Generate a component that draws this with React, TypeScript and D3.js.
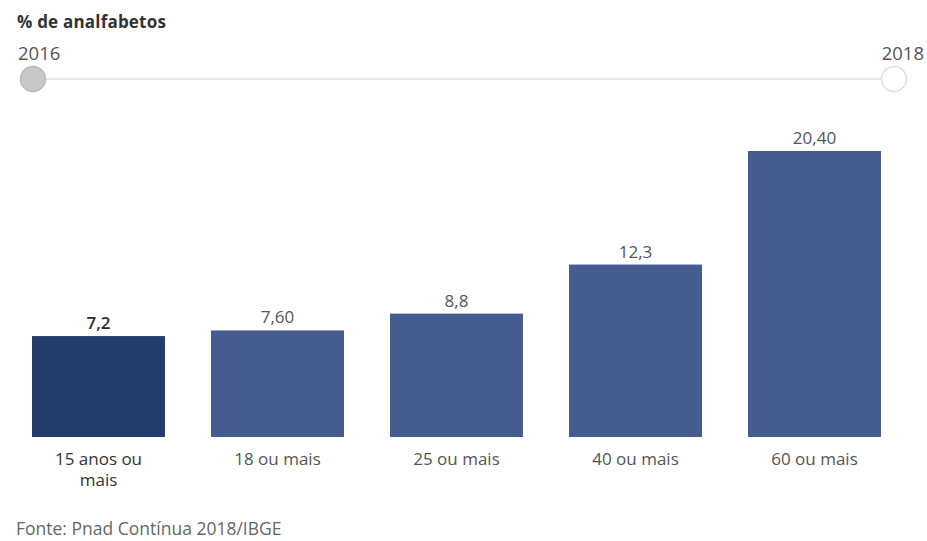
import React from "react";
import * as d3 from "d3";

const categories: string[][] = [
  ["15 anos ou", "mais"],
  ["18 ou mais"],
  ["25 ou mais"],
  ["40 ou mais"],
  ["60 ou mais"],
];
const values: number[] = [7.2, 7.6, 8.8, 12.3, 20.4];
const valueLabels: string[] = ["7,2", "7,60", "8,8", "12,3", "20,40"];
const years: string[] = ["2016", "2018"];

const W = 927;
const H = 541;
const FONT = "'Open Sans', 'Noto Sans', sans-serif";

export default function App() {
  const keys = categories.map((c) => c.join(" "));
  const x = d3.scaleBand<string>().domain(keys).range([32, 881]).paddingInner(0.257).paddingOuter(0);
  const y = d3.scaleLinear().domain([0, 20.4]).range([437, 151]);
  const slider = d3.scalePoint<string>().domain(years).range([33, 894]);

  return (
    <svg
      width={W}
      height={H}
      style={{ position: "absolute", left: 0, top: 0, background: "#fff" }}
      fontFamily={FONT}
    >
      <text x={17} y={28} fontSize={17} fontWeight={700} fill="#333" letterSpacing={0.2}>
        % de analfabetos
      </text>

      {/* year slider */}
      <line x1={slider("2016")!} x2={slider("2018")!} y1={79} y2={79} stroke="#dcdcdc" strokeWidth={1.5} />
      <text x={18} y={60} fontSize={18.5} fill="#555">
        {years[0]}
      </text>
      <text x={924} y={60} fontSize={18.5} fill="#555" textAnchor="end">
        {years[1]}
      </text>
      <circle cx={slider("2016")!} cy={79} r={12.5} fill="#c8c8c8" stroke="#b8b8b8" strokeWidth={1.5} />
      <circle cx={slider("2018")!} cy={79} r={12.5} fill="#fff" stroke="#dedede" strokeWidth={1.5} />

      {/* bars */}
      {values.map((v, i) => {
        const bx = x(keys[i])!;
        const bw = x.bandwidth();
        return (
          <g key={keys[i]}>
            <rect
              x={bx}
              y={y(v)}
              width={bw}
              height={y(0) - y(v)}
              fill={i === 0 ? "#243d6d" : "#465b90"}
            />
            <text
              x={bx + bw / 2}
              y={y(v) - 7}
              fontSize={17}
              textAnchor="middle"
              fill={i === 0 ? "#2a2a2a" : "#555"}
              fontWeight={i === 0 ? 600 : 400}
            >
              {valueLabels[i]}
            </text>
            {categories[i].map((line, j) => (
              <text
                key={line}
                x={bx + bw / 2}
                y={465 + j * 21}
                fontSize={17}
                textAnchor="middle"
                fill={i === 0 ? "#333" : "#555"}
              >
                {line}
              </text>
            ))}
          </g>
        );
      })}

      <text x={16} y={535} fontSize={17.5} fill="#666">
        Fonte: Pnad Contínua 2018/IBGE
      </text>
    </svg>
  );
}
